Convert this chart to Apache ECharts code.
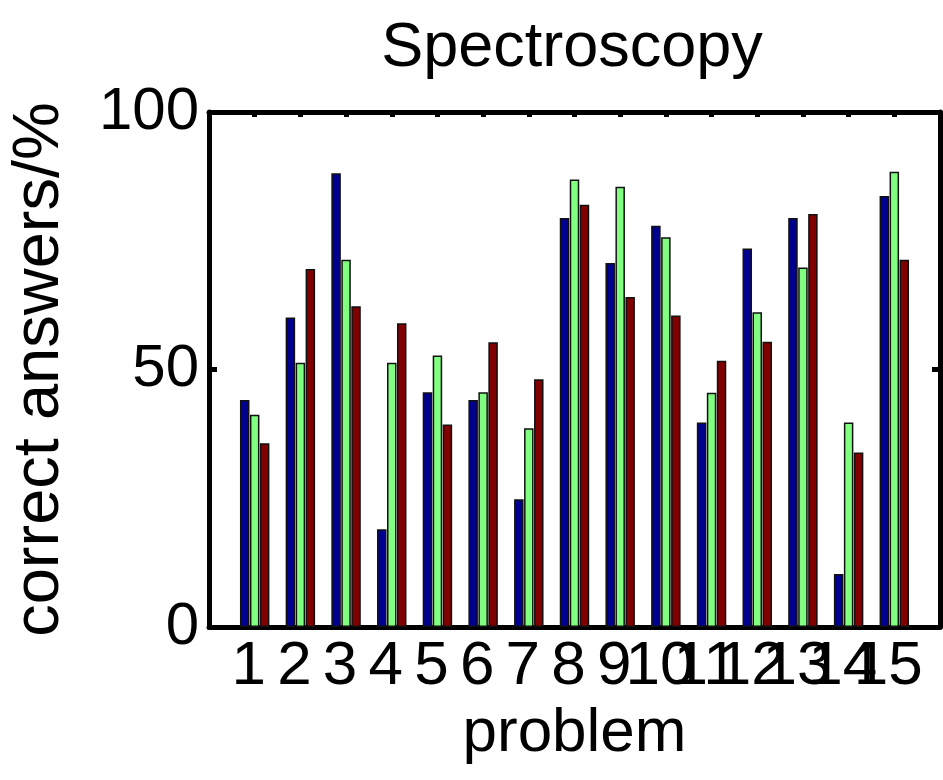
<!DOCTYPE html>
<html>
<head>
<meta charset="utf-8">
<script src="https://cdn.jsdelivr.net/npm/echarts@6/dist/echarts.min.js"></script>
<style>
  html, body { margin: 0; padding: 0; background: #fff; }
  #chart { width: 943px; height: 780px; }
</style>
</head>
<body>
<div id="chart"></div>
<script>
// problem numbers on the x axis
var problems = ['1', '2', '3', '4', '5', '6', '7', '8', '9', '10', '11', '12', '13', '14', '15'];
var yTicks = [0, 50, 100];

// correct answers in % per group
var blueVals  = [44.1, 60.1, 88.1, 19.0, 45.6, 44.1, 24.8, 79.4, 70.7, 77.9, 39.7, 73.5, 79.4, 10.3, 83.7];
var greenVals = [41.2, 51.3, 71.3, 51.3, 52.7, 45.6, 38.6, 86.9, 85.5, 75.7, 45.5, 61.1, 69.8, 39.7, 88.4];
var redVals   = [35.7, 69.5, 62.3, 59.0, 39.3, 55.3, 48.1, 82.0, 64.1, 60.5, 51.7, 55.4, 80.2, 33.9, 71.3];

var font = 'Liberation Sans, Arial, Helvetica, sans-serif';

function toPoints(vals) {
    return vals.map(function (v, i) { return [Number(problems[i]), v]; });
}

function barSeries(vals, color) {
    return {
        type: 'bar',
        data: toPoints(vals),
        barWidth: 9.5,
        barGap: '5%',
        itemStyle: { color: color, borderColor: '#111', borderWidth: 1.5 }
    };
}

var chart = echarts.init(document.getElementById('chart'), null, { renderer: 'canvas' });

var axisLine = { show: true, onZero: false, lineStyle: { color: '#000', width: 5 } };

chart.setOption({
    backgroundColor: '#fff',
    animation: false,
    title: {
        text: 'Spectroscopy',
        left: 567,
        top: 12,
        textAlign: 'center',
        textStyle: { fontFamily: font, fontSize: 63, fontWeight: 'normal', color: '#000' }
    },
    grid: { left: 203, right: 3, top: 112, bottom: 153 },
    xAxis: [
        {
            type: 'value',
            min: 0,
            max: problems.length + 1,
            interval: 1,
            name: 'problem',
            nameLocation: 'middle',
            nameGap: 66,
            nameTextStyle: { fontFamily: font, fontSize: 62, color: '#000' },
            axisLine: axisLine,
            axisTick: { show: true, inside: true, length: 5, lineStyle: { color: '#000', width: 5 } },
            axisLabel: {
                margin: 9,
                fontFamily: font,
                fontSize: 62,
                color: '#000',
                padding: [0, 12, 0, 0],
                formatter: function (v) { return problems.indexOf(String(v)) >= 0 ? String(v) : ''; }
            },
            splitLine: { show: false }
        },
        {
            type: 'value',
            position: 'top',
            min: 0,
            max: problems.length + 1,
            interval: 1,
            axisLine: axisLine,
            axisTick: { show: true, inside: true, length: 5, lineStyle: { color: '#000', width: 5 },
                        customValues: problems.map(Number) },
            axisLabel: { show: false },
            splitLine: { show: false }
        }
    ],
    yAxis: [
        {
            type: 'value',
            min: yTicks[0],
            max: yTicks[yTicks.length - 1],
            interval: 50,
            name: 'correct answers/%',
            nameLocation: 'middle',
            nameGap: 136,
            nameTextStyle: { fontFamily: font, fontSize: 65, color: '#000' },
            axisLine: axisLine,
            axisTick: { show: true, inside: true, length: 8, lineStyle: { color: '#000', width: 5 } },
            axisLabel: { margin: 10, fontFamily: font, fontSize: 60, color: '#000' },
            splitLine: { show: false }
        },
        {
            type: 'value',
            position: 'right',
            min: yTicks[0],
            max: yTicks[yTicks.length - 1],
            interval: 50,
            axisLine: axisLine,
            axisTick: { show: true, inside: true, length: 8, lineStyle: { color: '#000', width: 5 } },
            axisLabel: { show: false },
            splitLine: { show: false }
        }
    ],
    series: [
        barSeries(blueVals, '#00008f'),
        barSeries(greenVals, '#80ff80'),
        barSeries(redVals, '#800000')
    ]
});
</script>
</body>
</html>
